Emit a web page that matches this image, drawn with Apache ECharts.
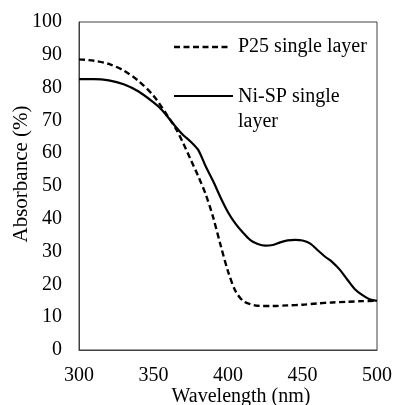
<!DOCTYPE html>
<html><head><meta charset="utf-8">
<script src="https://cdn.jsdelivr.net/npm/echarts@6/dist/echarts.min.js"></script>
<style>html,body{margin:0;padding:0;background:#fff}#c{width:395px;height:405px}</style>
</head><body><div id="c"></div>
<script>
const xTicks = [300, 350, 400, 450, 500];
const yTicks = [0, 10, 20, 30, 40, 50, 60, 70, 80, 90, 100];
const p25Wl = [300,310,320,330,340,350,360,365,370,375,380,385,390,395,400,405,410,415,420,430,440,450,460,470,480,490,500];
const p25Abs = [88.6,88.2,87.2,85.2,82,77.5,71,67.5,63,58,53,47.5,40.5,32,24,18,15,14,13.5,13.4,13.6,13.8,14.2,14.5,14.7,14.9,15];
const niWl = [300,310,320,330,340,350,355,360,365,370,375,380,385,390,395,400,405,410,415,420,425,430,435,440,445,450,455,460,465,470,475,480,485,490,495,500];
const niAbs = [82.6,82.6,82.2,81,78.8,75.5,73.5,70.8,68,65.5,63.5,61,56,51.5,46.5,42,38.5,35.8,33.5,32.3,31.8,32,32.8,33.4,33.6,33.4,32.5,30.5,28.5,26.8,24.5,21.5,18.6,16.8,15.5,15];
const seriesNames = ['P25 single layer', 'Ni-SP single\nlayer'];
const xTitle = 'Wavelength (nm)';
const yTitle = 'Absorbance (%)';

const font = 'Liberation Serif';
const fs = 20;
const chart = echarts.init(document.getElementById('c'), null, {renderer: 'canvas'});
const axisColor = '#404040';
const txt = (s, x, y, extra) => Object.assign({type: 'text', x: x, y: y,
  style: {text: s, font: fs + 'px "' + font + '"', fill: '#000', verticalAlign: 'middle'}}, extra || {});
const niLines = seriesNames[1].split('\n');
chart.setOption({
  animation: false,
  backgroundColor: '#fff',
  grid: {left: 79, top: 22, right: 17, bottom: 55, show: true, borderColor: axisColor, borderWidth: 1, containLabel: false},
  xAxis: {
    type: 'value', min: xTicks[0], max: xTicks[xTicks.length - 1], interval: 50,
    axisLine: {show: true, lineStyle: {color: axisColor}},
    axisTick: {show: false},
    splitLine: {show: false},
    axisLabel: {margin: 16, color: '#000', fontFamily: font, fontSize: fs}
  },
  yAxis: {
    type: 'value', min: yTicks[0], max: yTicks[yTicks.length - 1], interval: 10,
    axisLine: {show: true, lineStyle: {color: axisColor}},
    axisTick: {show: false},
    splitLine: {show: false},
    axisLabel: {margin: 17, color: '#000', fontFamily: font, fontSize: fs}
  },
  series: [
    {name: seriesNames[0], type: 'line', smooth: 0.3, symbol: 'none',
     data: p25Wl.map((w, i) => [w, p25Abs[i]]),
     lineStyle: {color: '#000', width: 2.4, type: [6, 3.5]}},
    {name: seriesNames[1], type: 'line', smooth: 0.3, symbol: 'none',
     data: niWl.map((w, i) => [w, niAbs[i]]),
     lineStyle: {color: '#000', width: 2.2}}
  ],
  graphic: [
    {type: 'line', shape: {x1: 174, y1: 47, x2: 230, y2: 47}, style: {stroke: '#000', lineWidth: 2.4, lineDash: [6, 3.5]}},
    txt(seriesNames[0], 238, 47),
    {type: 'line', shape: {x1: 174, y1: 96, x2: 233, y2: 96}, style: {stroke: '#000', lineWidth: 2.2}},
    txt(niLines[0], 238, 97),
    txt(niLines[1], 238, 122),
    {type: 'text', x: 21, y: 174, rotation: Math.PI / 2,
     style: {text: yTitle, font: '21px "' + font + '"', fill: '#000', align: 'center', verticalAlign: 'middle'}},
    {type: 'text', x: 241, y: 397,
     style: {text: xTitle, font: fs + 'px "' + font + '"', fill: '#000', align: 'center', verticalAlign: 'middle'}}
  ]
});
</script></body></html>
